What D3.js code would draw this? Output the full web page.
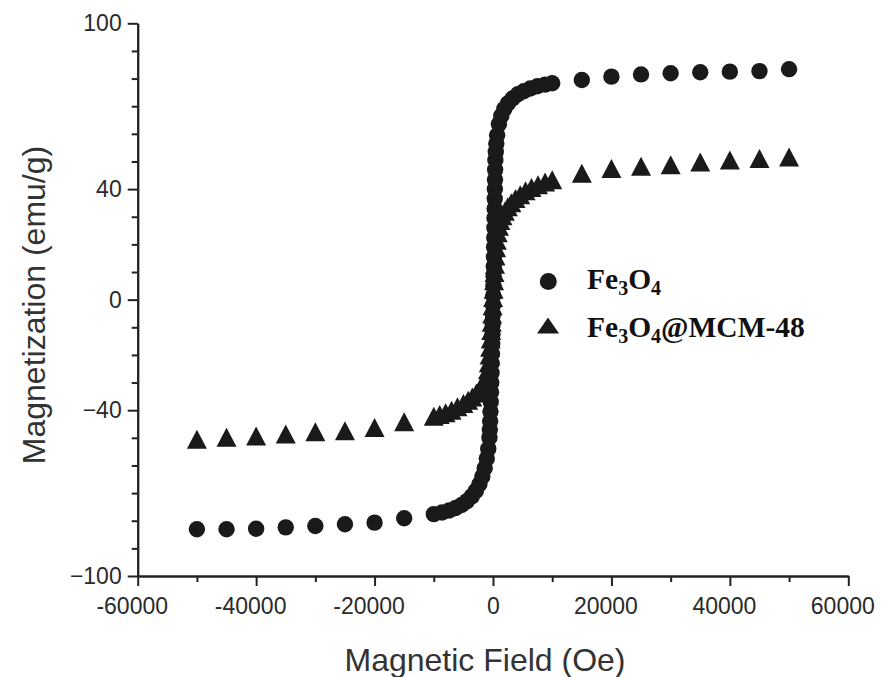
<!DOCTYPE html>
<html>
<head>
<meta charset="utf-8">
<script src="https://cdn.jsdelivr.net/npm/d3@7"></script>
<style>
  body { margin: 0; background: #fff; }
  svg { display: block; }
  .tick text { font-family: "Liberation Sans", Arial, sans-serif; fill: #2a2a2a; }
</style>
</head>
<body>
<div id="chart"></div>
<script>
var W = 883, H = 677;

// Fe3O4 (circles): field in Oe, magnetization in emu/g
var fieldFe3O4 = [-50000,-45000,-40000,-35000,-30000,-25000,-20000,-15000,-10000,
  -8600,-7400,-6300,-5300,-4400,-3600,-2900,-2300,-1800,-1400,-1050,-800,
  -600,-540,-480,-430,-380,-330,-290,-250,-210,-170,-130,-90,-55,-20,
  10,40,70,100,130,160,185,210,235,255,275,295,315,335,360,400,470,560,700,
  1000,1400,1900,2500,3300,4200,5200,6300,7500,8800,10000,
  15000,20000,25000,30000,35000,40000,45000,50000];
var magFe3O4 = [-83.1,-83.1,-82.9,-82.4,-81.9,-81.3,-80.7,-79.1,-77.6,
  -77.0,-76.3,-75.4,-74.3,-72.9,-71.2,-69.2,-66.8,-64.0,-61.0,-57.5,-54.0,
  -50.0,-47.0,-44.0,-40.5,-37.0,-33.5,-30.0,-26.5,-23.0,-19.5,-16.0,-12.5,-9.0,-5.5,
  -2.0,1.5,5.0,8.5,12.0,15.5,19.0,22.5,26.0,29.5,33.0,36.5,40.0,43.5,47.0,50.5,53.5,56.5,59.5,
  63.5,66.5,69.0,71.0,72.8,74.3,75.4,76.4,77.2,77.8,78.3,
  79.5,80.7,81.5,81.9,82.3,82.5,82.7,83.4];

// Fe3O4@MCM-48 (triangles)
var fieldMCM = [-50000,-45000,-40000,-35000,-30000,-25000,-20000,-15000,
  -10000,-9000,-8000,-7000,-6000,-5000,-4200,-3500,-2800,-2200,-1700,-1350,-1070,-850,-700,-580,-480,-390,-300,-220,-140,-60,
  20,100,180,260,340,420,520,640,800,1000,1250,1600,2000,2500,3100,3800,4600,5500,6500,7600,8800,10000,
  15000,20000,25000,30000,35000,40000,45000,50000];
var magMCM = [-50.5,-49.8,-49.3,-48.6,-47.8,-47.4,-46.3,-44.2,
  -42.2,-41.6,-40.9,-40.0,-38.8,-37.6,-36.4,-35.2,-33.8,-32.3,-30.6,-29.0,-27.6,-25.4,-22.8,-20.0,-17.2,-14.2,-11.2,-8.2,-5.2,-2.2,
  0.8,3.8,6.8,9.8,12.8,15.8,18.8,21.5,24.2,26.6,28.6,30.4,32.0,33.6,35.1,36.6,38.0,39.4,40.6,41.6,42.6,43.4,
  45.7,47.5,48.3,48.8,49.8,50.5,51.1,51.6];

// ticks
var xTicksMajor = [-60000,-40000,-20000,0,20000,40000,60000];
var xTicksMinor = [-50000,-30000,-10000,10000,30000,50000];
var yTicksLabeled = [-100,-40,0,40,100];
var yTicksAll = d3.range(-100, 101, 10);

var x = d3.scaleLinear().domain([-60000, 60000]).range([137.7, 848.3]);
var y = d3.scaleLinear().domain([-100, 100]).range([576, 23.3]);

var svg = d3.select("#chart").append("svg")
  .attr("width", W).attr("height", H);
svg.append("rect").attr("width", W).attr("height", H).attr("fill", "#fff");

var axisColor = "#222";

// y axis: minor ticks then labelled major ticks
var yMinor = svg.append("g").attr("transform", "translate(" + x(-60000) + ",0)")
  .call(d3.axisLeft(y).tickValues(yTicksAll.filter(function(v){ return yTicksLabeled.indexOf(v) < 0; }))
        .tickSize(6).tickSizeOuter(0).tickFormat(""));
var yMajor = svg.append("g").attr("transform", "translate(" + x(-60000) + ",0)")
  .call(d3.axisLeft(y).tickValues(yTicksLabeled).tickSize(10).tickSizeOuter(0).tickPadding(6)
        .tickFormat(function(d){ return d < 0 ? "\u2212" + Math.abs(d) : d; }));

// x axis
var xMinor = svg.append("g").attr("transform", "translate(0," + y(-100) + ")")
  .call(d3.axisBottom(x).tickValues(xTicksMinor).tickSize(6).tickSizeOuter(0).tickFormat(""));
var xMajor = svg.append("g").attr("transform", "translate(0," + y(-100) + ")")
  .call(d3.axisBottom(x).tickValues(xTicksMajor).tickSize(10).tickSizeOuter(0).tickPadding(12)
        .tickFormat(function(d){ return d < 0 ? "-" + Math.abs(d) : d; }));

[yMinor, yMajor, xMinor, xMajor].forEach(function(g){
  g.selectAll("path, line").attr("stroke", axisColor).attr("stroke-width", 2);
  g.selectAll("text").attr("font-size", 23);
});
xMajor.selectAll("text").attr("dx", function(d){ return d === 0 ? 0 : -6; });

// axis titles
svg.append("text")
  .attr("x", 485).attr("y", 671)
  .attr("text-anchor", "middle")
  .attr("font-family", "Liberation Sans, Arial, sans-serif")
  .attr("font-size", 32).attr("fill", "#333")
  .text("Magnetic Field (Oe)");
svg.append("text")
  .attr("transform", "translate(45,305) rotate(-90)")
  .attr("text-anchor", "middle")
  .attr("font-family", "Liberation Sans, Arial, sans-serif")
  .attr("font-size", 32).attr("fill", "#333")
  .text("Magnetization (emu/g)");

var markColor = "#1a1a1a";

function triPath(w, h) {
  var p = d3.path();
  p.moveTo(0, -h / 2);
  p.lineTo(w / 2, h / 2);
  p.lineTo(-w / 2, h / 2);
  p.closePath();
  return p.toString();
}

var mcm = fieldMCM.map(function(f, i){ return {h: f, m: magMCM[i]}; });
var fe = fieldFe3O4.map(function(f, i){ return {h: f, m: magFe3O4[i]}; });

svg.append("g").selectAll("path")
  .data(mcm).enter().append("path")
  .attr("d", triPath(20, 19))
  .attr("transform", function(d){ return "translate(" + x(d.h) + "," + y(d.m) + ")"; })
  .attr("fill", markColor);

svg.append("g").selectAll("circle")
  .data(fe).enter().append("circle")
  .attr("cx", function(d){ return x(d.h); })
  .attr("cy", function(d){ return y(d.m); })
  .attr("r", 8.2)
  .attr("fill", markColor);

// legend
var legend = svg.append("g").attr("font-family", "Liberation Serif, Times New Roman, serif")
  .attr("font-weight", "bold").attr("font-size", 29.5).attr("fill", "#111");
legend.append("circle").attr("cx", 548.3).attr("cy", 281.5).attr("r", 8.5).attr("fill", markColor);
legend.append("path").attr("d", triPath(22, 16))
  .attr("transform", "translate(548,325.5)").attr("fill", markColor);

function chem(yPos, tail) {
  var txt = legend.append("text").attr("x", 587).attr("y", yPos);
  txt.append("tspan").text("Fe");
  txt.append("tspan").attr("font-size", 20).attr("dy", 6).text("3");
  txt.append("tspan").attr("dy", -6).text("O");
  txt.append("tspan").attr("font-size", 20).attr("dy", 6).text("4");
  if (tail) txt.append("tspan").attr("dy", -6).text(tail);
}
chem(288.5);
chem(336.5, "@MCM-48");
</script>
</body>
</html>
